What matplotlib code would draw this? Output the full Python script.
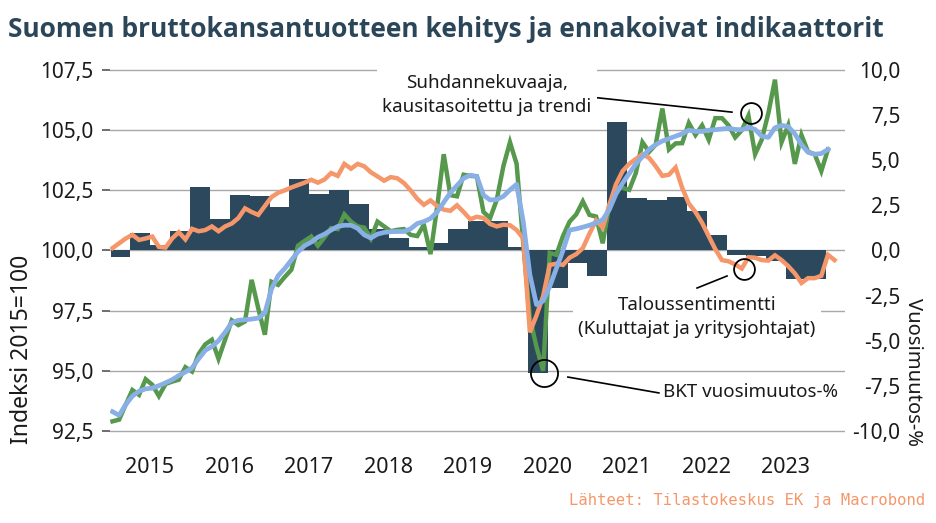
import numpy as np
import matplotlib.pyplot as plt
from matplotlib.ticker import FuncFormatter

# GDP year-on-year change, quarterly Q1/2015 .. Q4/2023 (right axis, %)
gdp_yoy = [-0.37, 0.98, 0.3, 1.1, 3.51, 1.72, 3.1, 3.01, 2.42, 3.94, 3.14, 3.35,
           2.6, 1.18, 0.7, 0.2, 0.4, 1.2, 1.61, 1.66, 0.22, -6.8, -2.09, -0.7,
           -1.39, 7.1, 2.9, 2.81, 2.99, 2.2, 0.87, -0.25, -0.33, -0.6, -1.57, -1.57]

# Trend indicator of output, seasonally adjusted, monthly from 3/2015 (index 2015=100)
kausitasoitettu = [92.9, 92.97, 93.6, 94.2, 94.0, 94.65, 94.42, 93.95, 94.45, 94.55, 94.63, 95.15,
                   94.97, 95.7, 96.1, 96.29, 95.5, 96.3, 97.1, 96.9, 97.05, 98.78, 97.6, 96.5,
                   98.7, 98.57, 98.9, 99.2, 100.2, 100.4, 100.58, 100.2, 100.55, 100.93, 100.89, 101.5,
                   101.2, 101.0, 100.95, 100.5, 101.2, 101.0, 100.8, 100.86, 100.89, 100.65, 100.6, 101.07,
                   99.85, 101.8, 104.0, 102.3, 102.25, 103.15, 103.1, 103.08, 101.6, 101.35, 102.1, 103.5,
                   104.5, 103.6, 100.3, 97.2, 96.0, 95.0, 99.9, 99.82, 100.6, 101.2, 101.5, 102.04,
                   101.48, 101.41, 100.3, 101.9, 102.6, 102.6, 102.52, 103.22, 104.5, 104.1, 104.4, 105.9,
                   104.2, 104.45, 104.46, 105.3, 104.8, 105.2, 104.6, 105.5, 105.5, 105.2, 104.7, 105.0,
                   105.6, 104.0, 104.6, 105.7, 107.1, 104.5, 105.2, 103.6, 104.8, 104.1, 104.0, 103.3,
                   104.2]

# Trend indicator of output, trend series
trendi = [93.3, 93.15, 93.6, 93.95, 94.15, 94.25, 94.28, 94.38, 94.5, 94.63, 94.8, 94.95,
          95.12, 95.5, 95.85, 96.01, 96.25, 96.6, 97.0, 97.1, 97.12, 97.15, 97.19, 97.4,
          98.4, 98.95, 99.25, 99.6, 99.95, 100.2, 100.35, 100.55, 100.68, 100.85, 101.0, 101.05,
          101.05, 100.92, 100.65, 100.52, 100.68, 100.75, 100.78, 100.79, 100.79, 100.9, 101.12, 101.2,
          101.33, 101.6, 102.0, 102.4, 102.7, 103.0, 103.13, 103.08, 102.3, 102.1, 102.12, 102.25,
          102.52, 102.75, 101.2, 99.0, 97.75, 97.9, 98.5, 99.25, 100.0, 100.85, 100.9, 100.97,
          101.05, 101.15, 101.28, 101.7, 102.35, 102.8, 103.2, 103.6, 103.9, 104.2, 104.4, 104.55,
          104.65, 104.75, 104.85, 105.0, 104.95, 104.95, 105.0, 105.02, 105.05, 105.08, 105.03, 105.02,
          105.12, 105.03, 104.75, 104.7, 105.1, 105.2, 105.15, 104.85, 104.4, 104.08, 104.0, 104.03,
          104.2]

# Economic sentiment (consumers and business leaders), monthly from 3/2015
sentimentti = [100.1, 100.3, 100.5, 100.65, 100.44, 100.5, 100.58, 100.15, 100.12, 100.5, 100.76, 100.46,
               100.9, 100.8, 100.85, 101.0, 100.8, 101.0, 101.12, 101.35, 101.75, 101.6, 101.48, 101.85,
               102.22, 102.4, 102.5, 102.62, 102.72, 102.82, 102.94, 102.82, 102.95, 103.22, 103.1, 103.6,
               103.4, 103.6, 103.5, 103.25, 103.08, 102.9, 103.05, 103.0, 102.8, 102.5, 102.15, 101.9,
               102.08, 101.85, 101.7, 101.65, 101.88, 101.6, 101.3, 101.4, 101.35, 101.1, 101.0, 101.07,
               101.05, 100.85, 100.5, 96.6, 97.3, 98.1, 99.4, 99.45, 99.4, 99.7, 99.85, 100.1,
               100.7, 101.25, 100.95, 101.9, 102.75, 103.3, 103.6, 103.8, 104.0, 103.85, 103.5, 103.1,
               103.15, 103.45, 102.6, 101.95, 101.6, 101.15, 100.6, 100.05, 99.6, 99.55, 99.42, 99.25,
               99.72, 99.7, 99.6, 99.58, 99.8, 99.6, 99.35, 99.05, 98.65, 98.85, 98.85, 98.95,
               99.82, 99.6]

years = list(range(2015, 2024))
left_ticks = [92.5, 95.0, 97.5, 100.0, 102.5, 105.0, 107.5]
right_ticks = [-10.0, -7.5, -5.0, -2.5, 0.0, 2.5, 5.0, 7.5, 10.0]

bar_col = '#2c485c'
green = '#56984c'
orange = '#f5976a'
blue = '#88afe6'
txt = '#1a1a1a'

plt.rcParams['font.family'] = ['Noto Sans', 'DejaVu Sans']

fig = plt.figure(figsize=(9.37, 5.23), dpi=100)
ax = fig.add_axes([0.1174, 0.1576, 0.7844, 0.7269])   # bars, right scale
ax2 = ax.twinx()                                       # lines, left scale

lo, hi = 92.1, 107.9
ax2.set_ylim(lo, hi)
ax.set_ylim((lo - 100) * 4 / 3, (hi - 100) * 4 / 3)
ax.set_xlim(2015.16, 2024.406)

for v in left_ticks:
    ax.axhline((v - 100) * 4 / 3, color='#a8a8a8', lw=1.0, zorder=0)

# quarterly bars, step-like (no gaps)
q = np.arange(len(gdp_yoy))
ax.bar(2015 + (3 * q + 2) / 12, gdp_yoy, width=0.25, align='edge',
       color=bar_col, linewidth=0, zorder=2)

m1 = np.arange(len(kausitasoitettu))
m2 = np.arange(len(sentimentti))
xm1 = 2015 + (m1 + 2.3) / 12
xm2 = 2015 + (m2 + 2.3) / 12
ax2.plot(xm1, kausitasoitettu, color=green, lw=3.2, zorder=3, solid_joinstyle='miter')
ax2.plot(xm2, sentimentti, color=orange, lw=3.2, zorder=4, solid_joinstyle='miter')
ax2.plot(xm1, trendi, color=blue, lw=3.4, zorder=5, solid_joinstyle='round')

# axes cosmetics
for a in (ax, ax2):
    for s in a.spines.values():
        s.set_visible(False)

fmt = FuncFormatter(lambda v, p: f'{v:.1f}'.replace('.', ','))

ax.set_yticks(right_ticks)
ax.yaxis.tick_right()
ax.yaxis.set_major_formatter(fmt)
ax.tick_params(axis='y', length=0, pad=40, labelsize=15, labelcolor=txt)
for lab in ax.get_yticklabels():
    lab.set_horizontalalignment('right')

ax2.set_yticks(left_ticks)
ax2.yaxis.tick_left()
ax2.yaxis.set_major_formatter(fmt)
ax2.tick_params(axis='y', length=6, width=1.2, color='#555555', pad=6, labelsize=15, labelcolor=txt)

ax.set_xticks([y + 0.6635 for y in years])
ax.set_xticklabels([str(y) for y in years])
ax.tick_params(axis='x', length=0, pad=12, labelsize=15.5, labelcolor=txt)

# annotations
ann = dict(fontsize=13.5, color=txt, ha='center', va='center', zorder=10,
           linespacing=1.4, bbox=dict(facecolor='white', edgecolor='none', pad=4))
ax2.text(2019.904, 106.46, 'Suhdannekuvaaja,\nkausitasoitettu ja trendi', **ann)
ax2.text(2022.545, 97.24, 'Taloussentimentti\n(Kuluttajat ja yritysjohtajat)', **ann)
ax2.text(2022.115, 94.12, 'BKT vuosimuutos-%', fontsize=13.5, color=txt,
         ha='left', va='center', zorder=10)

ax2.plot([2021.198, 2022.984], [106.38, 105.75], color='black', lw=1.2, zorder=9)
ax2.plot([2022.545, 2022.922], [98.44, 98.94], color='black', lw=1.2, zorder=9)
ax2.plot([2020.92, 2022.065], [94.74, 94.08], color='black', lw=1.2, zorder=9)

ax2.plot([2023.223], [105.71], marker='o', ms=15, mfc='none', mec='black', mew=1.3, zorder=9)
ax2.plot([2023.136], [99.23], marker='o', ms=15, mfc='none', mec='black', mew=1.3, zorder=9)
ax2.plot([2020.62], [94.91], marker='o', ms=19.5, mfc='none', mec='black', mew=1.3, zorder=9)

fig.text(8 / 937, 1 - 37 / 523, 'Suomen bruttokansantuotteen kehitys ja ennakoivat indikaattorit',
         fontsize=19, fontweight='bold', family='Open Sans', color='#2c4659',
         ha='left', va='baseline')
fig.text(22 / 937, 1 - 349 / 523, 'Indeksi 2015=100', rotation=90, fontsize=16.5,
         color=txt, ha='center', va='center')
fig.text(913 / 937, 1 - 372 / 523, 'Vuosimuutos-%', rotation=270, fontsize=14.5,
         color=txt, ha='center', va='center')
fig.text(925 / 937, 1 - 500 / 523, 'Lähteet: Tilastokeskus EK ja Macrobond',
         fontsize=11.2, family='DejaVu Sans Mono', color=orange, ha='right', va='center')

fig.savefig('out.png', dpi=100)
